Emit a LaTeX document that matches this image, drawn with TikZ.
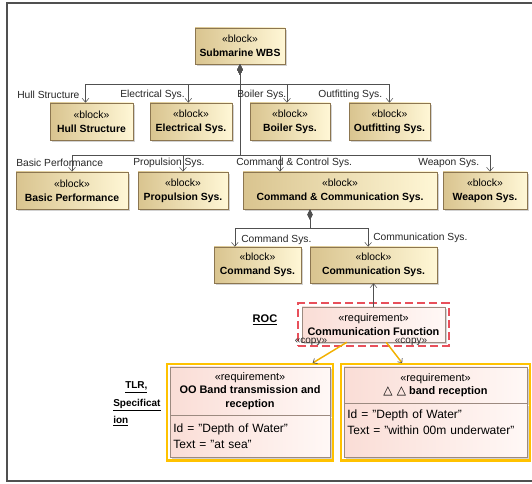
\documentclass[tikz,border=0pt]{standalone}
\usepackage{fontspec}
\setmainfont{Liberation Sans}
\usetikzlibrary{arrows.meta,shadows,fit,positioning}

\definecolor{blockdark}{HTML}{D9C48F}
\definecolor{blocklight}{HTML}{FFF7D6}
\definecolor{blockline}{HTML}{8C7650}
\definecolor{reqpink}{HTML}{FADDD6}
\definecolor{reqwhite}{HTML}{FFF8F6}
\definecolor{reqline}{HTML}{9C8A80}
\definecolor{linkgray}{HTML}{505050}
\definecolor{copyline}{HTML}{F2B000}
\definecolor{selline}{HTML}{FFC200}
\definecolor{roiline}{HTML}{E8505B}

\tikzset{
  block/.style={draw=blockline, left color=blockdark, right color=blocklight, align=center, inner sep=1pt,
    font=\fontsize{7.8}{10.5}\selectfont, drop shadow={shadow xshift=1.5pt, shadow yshift=-1.5pt, fill=black!35}},
  reqhead/.style={draw=reqline, left color=reqpink, right color=reqwhite, align=center, inner sep=1pt,
    font=\fontsize{8.2}{10}\selectfont, drop shadow={shadow xshift=1.5pt, shadow yshift=-1.5pt, fill=black!35}},
  reqbody/.style={draw=reqline, left color=reqpink, right color=reqwhite, align=left, inner xsep=2.5pt, inner ysep=0pt,
    font=\fontsize{9}{12}\selectfont, drop shadow={shadow xshift=1.5pt, shadow yshift=-1.5pt, fill=black!35}},
  role/.style={anchor=west, inner sep=0pt, font=\fontsize{7.7}{9}\selectfont, text=black!85},
  part/.style={draw=linkgray, {Diamond[length=8pt,width=4pt]}-{Straight Barb[length=3pt,width=5pt]}},
  link/.style={draw=linkgray, -{Straight Barb[length=3pt,width=5pt]}},
  copylink/.style={draw=copyline, line width=1.1pt, -{Straight Barb[length=2.5pt,width=4.5pt,line width=0.5pt,color=linkgray]}},
  tag/.style={inner sep=0pt, font=\fontsize{7.5}{8}\selectfont, text=black!85},
  note/.style={inner sep=0pt, align=left, font=\fontsize{8.3}{13.5}\selectfont\bfseries},
}

\begin{document}
\begin{tikzpicture}[x=0.75pt,y=0.75pt,yscale=-1]
\useasboundingbox (0,0) rectangle (532,484);
\draw [linkgray, line width=1.1pt] (532,3) -- (7,3) -- (7,481) -- (532,481);

\coordinate (bus1) at (0,84);
\coordinate (bus2) at (0,155);
\coordinate (bus3) at (0,228);

\node (wbs) at (240,46) [block, minimum width=67.5pt, minimum height=27pt] {«block»\\\textbf{Submarine WBS}};

\node (hull) at (91.5,121.5) [block, minimum width=62.25pt, minimum height=27.75pt] {«block»\\\textbf{Hull Structure}};
\node (elec) at (191,121.5) [block, minimum width=61.5pt, minimum height=27.75pt] {«block»\\\textbf{Electrical Sys.}};
\node (boiler) at (290,121.5) [block, minimum width=60pt, minimum height=27.75pt] {«block»\\\textbf{Boiler Sys.}};
\node (outfit) at (389.5,121.5) [block, minimum width=60.75pt, minimum height=27.75pt] {«block»\\\textbf{Outfitting Sys.}};

\node (basic) at (72,190.5) [block, minimum width=84pt, minimum height=27.75pt] {«block»\\\textbf{Basic Performance}};
\node (prop) at (183,190.5) [block, minimum width=67.5pt, minimum height=27.75pt] {«block»\\\textbf{Propulsion Sys.}};
\node (cc) at (340,190.5) [block, minimum width=145.5pt, minimum height=27.75pt] {«block»\\\textbf{Command \& Communication Sys.}};
\node (weapon) at (485,190.5) [block, minimum width=63pt, minimum height=27.75pt] {«block»\\\textbf{Weapon Sys.}};

\node (cmd) at (257.5,265) [block, minimum width=65.25pt, minimum height=27pt] {«block»\\\textbf{Command Sys.}};
\node (comsys) at (373.5,265) [block, minimum width=95.25pt, minimum height=27pt] {«block»\\\textbf{Communication Sys.}};

\draw [part] (wbs.south) |- ([xshift=-4.5pt]hull.north |- bus1) -- ([xshift=-4.5pt]hull.north);
\draw [part] (wbs.south) |- ([xshift=-2pt]elec.north |- bus1) -- ([xshift=-2pt]elec.north);
\draw [part] (wbs.south) |- ([xshift=-2.25pt]boiler.north |- bus1) -- ([xshift=-2.25pt]boiler.north);
\draw [part] (wbs.south) |- (outfit.north |- bus1) -- (outfit.north);
\draw [part] (wbs.south) |- (basic.north |- bus2) -- (basic.north);
\draw [part] (wbs.south) |- (prop.north |- bus2) -- (prop.north);
\draw [part] (wbs.south) |- ([xshift=-45pt]cc.north |- bus2) -- ([xshift=-45pt]cc.north);
\draw [part] (wbs.south) |- ([xshift=3.75pt]weapon.north |- bus2) -- ([xshift=3.75pt]weapon.north);
\draw [part] ([xshift=-22.5pt]cc.south) |- ([xshift=-17pt]cmd.north |- bus3) -- ([xshift=-17pt]cmd.north);
\draw [part] ([xshift=-22.5pt]cc.south) |- ([xshift=-4pt]comsys.north |- bus3) -- ([xshift=-4pt]comsys.north);

\node (lhull) at (17,95) [role] {Hull Structure};
\node (lelec) at (120,95) [role] {Electrical Sys.};
\node (lboiler) at (237,95) [role] {Boiler Sys.};
\node (loutfit) at (318,95) [role] {Outfitting Sys.};
\node (lbasic) at (16,163) [role] {Basic Performance};
\node (lprop) at (133,163) [role] {Propulsion Sys.};
\node (lcc) at (236,163) [role] {Command \& Control Sys.};
\node (lweapon) at (418,163) [role] {Weapon Sys.};
\node (lcmd) at (241,240) [role] {Command Sys.};
\node (lcomsys) at (373,238) [role] {Communication Sys.};

\node (cfunc) at (373.5,324.5) [reqhead, minimum width=107.25pt, minimum height=26.25pt] {«requirement»\\\textbf{Communication Function}};
\node (roi) [fit=(cfunc), inner sep=2.5pt, draw=roiline, line width=1.5pt, dash pattern=on 6pt off 3pt] {};
\draw [link] (cfunc.north) -- (comsys.south);

\node (reqAh) at (250,391) [reqhead, minimum width=120pt, minimum height=36pt] {«requirement»\\\textbf{OO Band transmission and}\\\textbf{reception}};
\node (reqAb) [below=0pt of reqAh, reqbody, text width=115pt, minimum height=31.5pt] {Id = "Depth of Water"\\Text = "at sea"};
\node (reqBh) at (435.5,385) [reqhead, minimum width=137.25pt, minimum height=27pt] {«requirement»\\\textbf{{\fontspec{DejaVu Sans}\fontsize{9}{10}\selectfont △ △} band reception}};
\node (reqBb) [below=0pt of reqBh, reqbody, text width=132.25pt, minimum height=40.5pt] {Id = "Depth of Water"\\Text = "within 00m underwater"\\\mbox{}};

\node (selA) [fit=(reqAh)(reqAb), inner sep=2pt, draw=selline, line width=1.6pt] {};
\node (selB) [fit=(reqBh)(reqBb), inner sep=2pt, draw=selline, line width=1.6pt] {};

\draw [copylink] ([xshift=-20pt]cfunc.south) -- ([xshift=47pt]selA.north);
\draw [copylink] ([xshift=9.5pt]cfunc.south) -- ([xshift=-25pt]selB.north);
\node (tcopyA) at (311,342) [tag] {«copy»};
\node (tcopyB) at (411,342) [tag] {«copy»};

\node (roc) at (265,320) [note] {\underline{ROC}};
\node (tlr) at (113,404) [note, anchor=west, font=\fontsize{7.5}{13}\selectfont\bfseries] {\hspace*{9pt}\underline{TLR,}\\\underline{Specificat}\\\underline{ion}};
\end{tikzpicture}
\end{document}
